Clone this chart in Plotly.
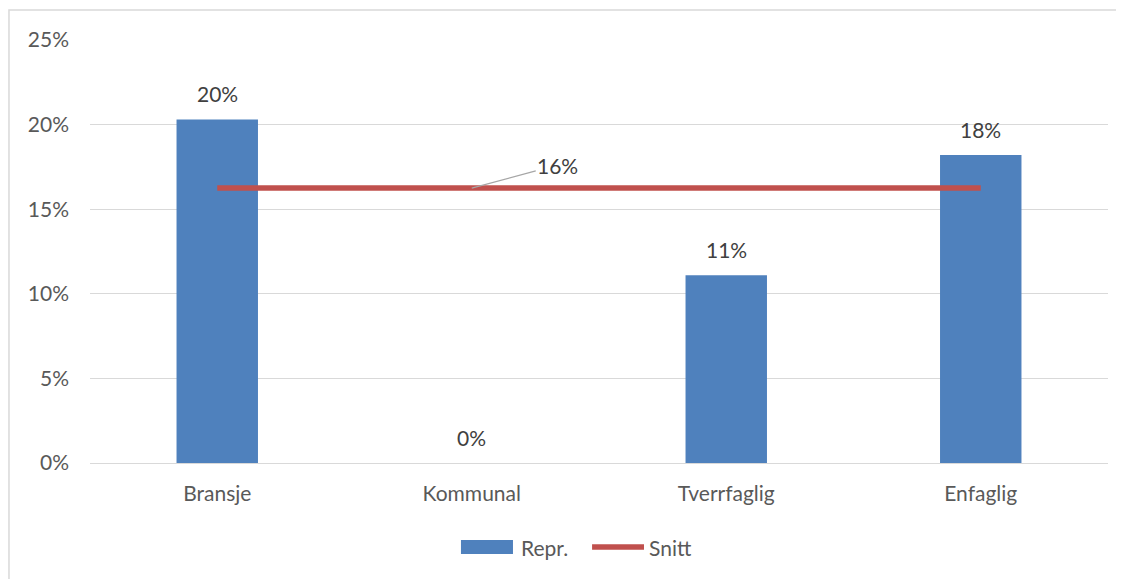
import plotly.graph_objects as go

categories = ["Bransje", "Kommunal", "Tverrfaglig", "Enfaglig"]
repr_values = [0.203, 0.0, 0.111, 0.182]
snitt_values = [0.1625, 0.1625, 0.1625, 0.1625]
y_ticks = [0, 0.05, 0.10, 0.15, 0.20, 0.25]
y_tick_labels = ["0%", "5%", "10%", "15%", "20%", "25%"]

BLUE = "#4f81bd"
RED = "#c0504d"
TEXT = "#595959"
FONT = "Lato, 'Open Sans', sans-serif"
FS = 21

fig = go.Figure()

fig.add_trace(go.Bar(
    x=categories,
    y=repr_values,
    name="Repr.",
    marker=dict(color=BLUE, line=dict(width=0)),
    width=0.32,
    showlegend=False,
))

fig.add_trace(go.Scatter(
    x=categories,
    y=snitt_values,
    name="Snitt",
    mode="lines",
    line=dict(color=RED, width=5.5),
    showlegend=False,
))

annotations = []
for cat, val in zip(categories, repr_values):
    annotations.append(dict(
        x=cat, y=val, text=f"{round(val * 100):.0f}%",
        showarrow=False, yshift=26,
        font=dict(size=FS, color="#404040", family=FONT),
    ))

# Snitt label with leader line
annotations.append(dict(
    x=categories[1], y=snitt_values[1], text=f"{round(snitt_values[1] * 100):.0f}%",
    showarrow=True, arrowhead=0, arrowwidth=1.2, arrowcolor="#a6a6a6",
    ax=86, ay=-23,
    font=dict(size=FS, color="#404040", family=FONT),
))

# Excel-style legend with wide swatches, drawn by hand
annotations += [
    dict(xref="paper", yref="paper", x=0.4214, y=-0.199, xanchor="left",
         yanchor="middle", text="Repr.", showarrow=False,
         font=dict(size=FS, color=TEXT)),
    dict(xref="paper", yref="paper", x=0.5472, y=-0.199, xanchor="left",
         yanchor="middle", text="Snitt", showarrow=False,
         font=dict(size=FS, color=TEXT)),
]
legend_shapes = [
    dict(type="rect", xref="paper", yref="paper",
         x0=0.3644, x1=0.4155, y0=-0.215, y1=-0.182,
         fillcolor=BLUE, line=dict(width=0)),
    dict(type="line", xref="paper", yref="paper",
         x0=0.4932, x1=0.5442, y0=-0.1986, y1=-0.1986,
         line=dict(color=RED, width=5.5)),
]

# page body has an 8px margin, so the plot area is offset by that much
fig.update_layout(
    width=1124, height=579,
    paper_bgcolor="white", plot_bgcolor="white",
    margin=dict(l=82, r=24, t=32, b=124),
    font=dict(family=FONT, size=FS, color=TEXT),
    xaxis=dict(
        showgrid=False, showline=True, linecolor="#d9d9d9", linewidth=1,
        ticks="", ticklabelstandoff=12, tickfont=dict(size=FS, color=TEXT),
    ),
    yaxis=dict(
        range=[0, 0.25], tickvals=y_ticks, ticktext=y_tick_labels,
        showgrid=True, gridcolor="#d9d9d9", gridwidth=1,
        zeroline=False, ticks="", ticklabelstandoff=20,
        tickfont=dict(size=FS, color=TEXT),
    ),
    annotations=annotations,
    shapes=[dict(
        type="rect", xref="paper", yref="paper",
        x0=-0.0796, x1=1.03, y0=-0.32, y1=1.0709,
        line=dict(color="#d9d9d9", width=1.5), fillcolor="rgba(0,0,0,0)",
        layer="below",
    )] + legend_shapes,
)

fig.write_html("out.html")
